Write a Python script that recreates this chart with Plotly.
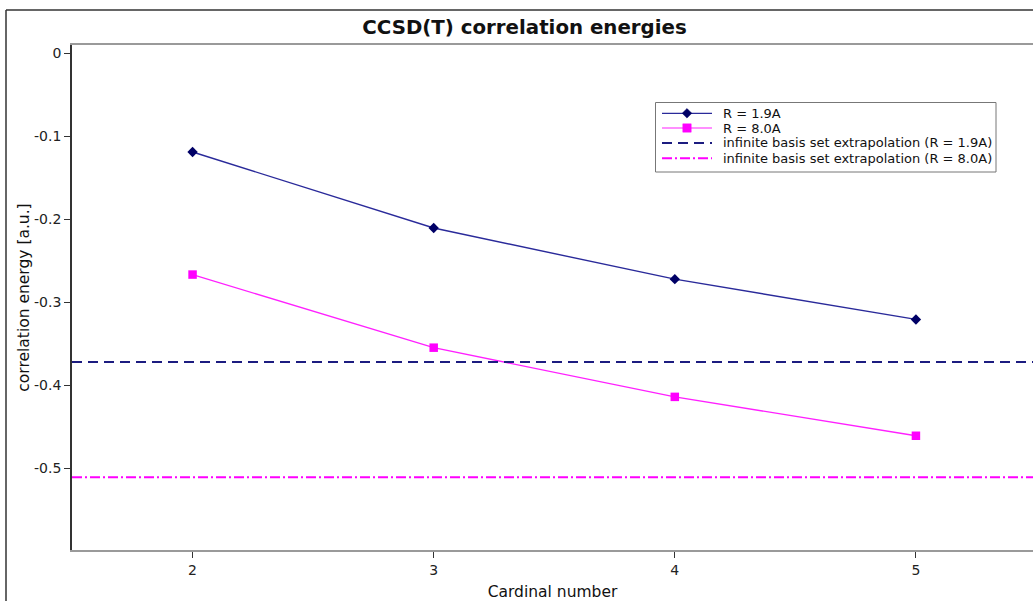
import plotly.graph_objects as go

# Data
cardinal = [2, 3, 4, 5]
e_r19 = [-0.119, -0.2105, -0.272, -0.3205]
e_r80 = [-0.2665, -0.3545, -0.4137, -0.4605]
cbs_r19 = -0.3716
cbs_r80 = -0.5105

x_range = [1.5, 5.4855]
y_range = [-0.598, 0.0098]
y_ticks = [0, -0.1, -0.2, -0.3, -0.4, -0.5]
y_ticktext = ["0", "-0.1", "-0.2", "-0.3", "-0.4", "-0.5"]
x_ticks = [2, 3, 4, 5]

names = ["R = 1.9A", "R = 8.0A",
         "infinite basis set extrapolation (R = 1.9A)",
         "infinite basis set extrapolation (R = 8.0A)"]

FONT = "DejaVu Sans"
W, H = 1033, 601
L, T, B = 72, 45, 51
PW, PH = W - L, H - T - B

C19_LINE, C19_MARK = "#2a2a9a", "#000066"
C80_LINE, C80_MARK = "#ff20ff", "#ff00ff"
CBS19, CBS80 = "#1c1c80", "#ff00ff"
DASH19, DASH80 = "10px,6px", "10px,3px,2px,3px"


def px(xp):
    return (xp - L) / PW


def py(yp):
    return 1 - (yp - T) / PH


fig = go.Figure()
fig.add_trace(go.Scatter(
    x=cardinal, y=e_r19, mode="lines+markers", name=names[0],
    line=dict(color=C19_LINE, width=1.4),
    marker=dict(symbol="diamond", size=8, color=C19_MARK),
))
fig.add_trace(go.Scatter(
    x=cardinal, y=e_r80, mode="lines+markers", name=names[1],
    line=dict(color=C80_LINE, width=1.3),
    marker=dict(symbol="square", size=8.5, color=C80_MARK),
))
fig.add_trace(go.Scatter(
    x=x_range, y=[cbs_r19, cbs_r19], mode="lines", name=names[2],
    line=dict(color=CBS19, width=2, dash=DASH19),
))
fig.add_trace(go.Scatter(
    x=x_range, y=[cbs_r80, cbs_r80], mode="lines", name=names[3],
    line=dict(color=CBS80, width=2, dash=DASH80),
))

fig.update_layout(
    width=W, height=H,
    margin=dict(l=L, r=0, t=T, b=B),
    paper_bgcolor="white", plot_bgcolor="white",
    font=dict(family=FONT, size=13, color="#222222"),
    title=dict(text="<b>CCSD(T) correlation energies</b>", x=524.5 / W, xanchor="center",
               y=1 - 27 / H, yanchor="middle", font=dict(family=FONT, size=19.8, color="#111111")),
    showlegend=False,
    xaxis=dict(range=x_range, tickvals=x_ticks, showgrid=False, zeroline=False, automargin=False,
               showline=True, linecolor="#9a9a9a", linewidth=2, mirror=True,
               ticks="outside", ticklen=6, tickcolor="#333333", tickwidth=1,
               tickfont=dict(family=FONT, size=14, color="#222222"),
               title=dict(text="Cardinal number", font=dict(family=FONT, size=15.5, color="#111111"), standoff=9)),
    yaxis=dict(range=y_range, tickvals=y_ticks, ticktext=y_ticktext, showgrid=False, zeroline=False,
               automargin=False,
               showline=True, linecolor="#333333", linewidth=1.6,
               ticks="outside", ticklen=6, tickcolor="#333333", tickwidth=1,
               tickfont=dict(family=FONT, size=14, color="#222222"),
               title=dict(text="correlation energy [a.u.]", font=dict(family=FONT, size=15.5, color="#111111"), standoff=1)),
)

# outer chart frame (left and top edges visible)
fx0 = px(6)
fy1 = py(10)
fig.add_shape(type="line", xref="paper", yref="paper", x0=fx0, x1=fx0, y0=-0.2, y1=fy1,
              line=dict(color="#333333", width=1.5))
fig.add_shape(type="line", xref="paper", yref="paper", x0=fx0, x1=1.1, y0=fy1, y1=fy1,
              line=dict(color="#333333", width=1.5))

# legend (drawn manually to match the compact row spacing)
fig.add_shape(type="rect", xref="paper", yref="paper", x0=px(655.5), x1=px(996), y0=py(172), y1=py(102.5),
              line=dict(color="#777777", width=1), fillcolor="white", layer="above")
rows = [113.3, 128.0, 143.0, 158.3]
styles = [(C19_LINE, 1.2, "solid"), (C80_LINE, 1.2, "solid"), (CBS19, 2, DASH19), (CBS80, 2, DASH80)]
for yy, (c, w, d) in zip(rows, styles):
    fig.add_shape(type="line", xref="paper", yref="paper", x0=px(662), x1=px(712), y0=py(yy), y1=py(yy),
                  line=dict(color=c, width=w, dash=d), layer="above")
# legend marker glyphs
cx, r = 687, 4.8
yy = rows[0]
fig.add_shape(type="path", xref="paper", yref="paper", layer="above",
              path=f"M {px(cx - r)} {py(yy)} L {px(cx)} {py(yy - r)} L {px(cx + r)} {py(yy)} L {px(cx)} {py(yy + r)} Z",
              fillcolor=C19_MARK, line=dict(color=C19_MARK, width=0.5))
yy = rows[1]
s = 4.2
fig.add_shape(type="rect", xref="paper", yref="paper", layer="above",
              x0=px(cx - s), x1=px(cx + s), y0=py(yy + s), y1=py(yy - s),
              fillcolor=C80_MARK, line=dict(color=C80_MARK, width=0.5))
for yy, name in zip(rows, names):
    fig.add_annotation(xref="paper", yref="paper", x=px(721), y=py(yy), text=name, showarrow=False,
                       xanchor="left", yanchor="middle", font=dict(family=FONT, size=13, color="#111111"))

fig.write_html("out.html", config={"displayModeBar": False},
               post_script="document.body.style.margin='0';document.body.style.overflow='hidden';")
